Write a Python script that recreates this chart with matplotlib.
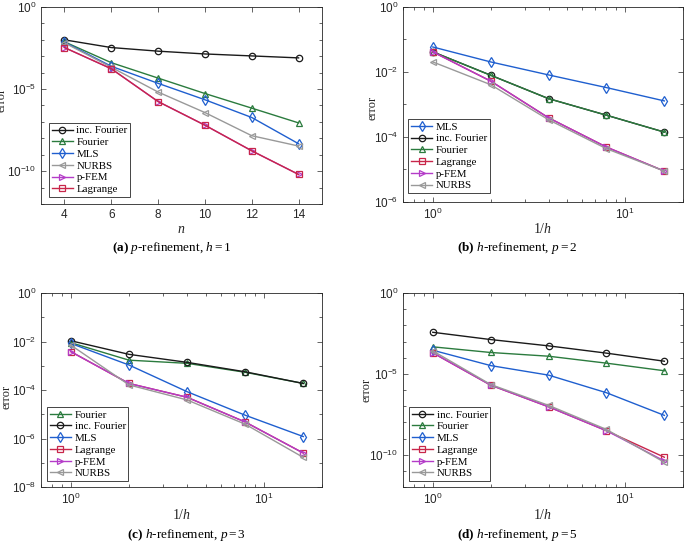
import matplotlib
matplotlib.use("Agg")
import matplotlib.pyplot as plt
import numpy as np
from matplotlib.ticker import LogLocator, NullFormatter, FixedLocator

plt.rcParams['font.family'] = 'Liberation Sans'
plt.rcParams['mathtext.fontset'] = 'custom'
plt.rcParams['mathtext.rm'] = 'Liberation Serif'
plt.rcParams['mathtext.it'] = 'Liberation Serif:italic'
plt.rcParams['mathtext.bf'] = 'Liberation Serif:bold'

# colours / markers per method
styles = {
    "inc. Fourier": ("#1a1a1a", "o"),
    "Fourier": ("#2b7b3e", "^"),
    "MLS": ("#1f5fcf", "d"),
    "NURBS": ("#999999", "<"),
    "p-FEM": ("#b43cc8", ">"),
    "Lagrange": ("#c8264a", "s"),
}

# (a) p-refinement, h = 1  (log10 of error)
n_a = [4, 6, 8, 10, 12, 14]
a_incfourier = [-2.00, -2.47, -2.69, -2.86, -2.98, -3.10]
a_fourier = [-2.12, -3.39, -4.33, -5.27, -6.16, -7.06]
a_mls = [-2.14, -3.61, -4.65, -5.65, -6.73, -8.33]
a_nurbs = [-2.18, -3.67, -5.18, -6.43, -7.84, -8.47]
a_pfem = [-2.47, -3.76, -5.76, -7.20, -8.76, -10.20]
a_lagrange = [-2.47, -3.76, -5.76, -7.20, -8.76, -10.20]

# (b) h-refinement, p = 2
inv_h = [1, 2, 4, 8, 16]
b_mls = [-1.23, -1.69, -2.09, -2.48, -2.89]
b_incfourier = [-1.38, -2.10, -2.82, -3.33, -3.85]
b_fourier = [-1.38, -2.10, -2.82, -3.33, -3.85]
b_lagrange = [-1.38, -2.28, -3.41, -4.31, -5.05]
b_pfem = [-1.38, -2.28, -3.41, -4.31, -5.05]
b_nurbs = [-1.69, -2.39, -3.47, -4.36, -5.05]

# (c) h-refinement, p = 3
c_fourier = [-2.05, -2.77, -2.90, -3.27, -3.73]
c_incfourier = [-1.97, -2.53, -2.86, -3.25, -3.73]
c_mls = [-2.08, -2.97, -4.07, -5.04, -5.92]
c_lagrange = [-2.42, -3.73, -4.30, -5.32, -6.60]
c_pfem = [-2.42, -3.73, -4.30, -5.32, -6.60]
c_nurbs = [-2.15, -3.79, -4.41, -5.41, -6.78]

# (d) h-refinement, p = 5
d_incfourier = [-2.43, -2.88, -3.27, -3.72, -4.22]
d_fourier = [-3.33, -3.68, -3.91, -4.34, -4.81]
d_mls = [-3.54, -4.49, -5.08, -6.17, -7.57]
d_lagrange = [-3.70, -5.70, -7.04, -8.52, -10.16]
d_pfem = [-3.70, -5.70, -7.04, -8.52, -10.39]
d_nurbs = [-3.58, -5.66, -6.95, -8.44, -10.47]

panels = [
    dict(x=n_a, series=[("inc. Fourier", a_incfourier), ("Fourier", a_fourier), ("MLS", a_mls),
                        ("NURBS", a_nurbs), ("p-FEM", a_pfem), ("Lagrange", a_lagrange)],
         rect=(41, 7, 322, 204), ylim=(-12, 0), ymajor=[0, -5, -10], logx=False,
         xlabel=r"$n$", cap=r"$\mathbf{(a)}$ $p$-refinement, $h = 1$", capxy=(172, 248),
         leg=(0.028, 0.036), ylab=(2, 100), xlab=229),
    dict(x=inv_h, series=[("MLS", b_mls), ("inc. Fourier", b_incfourier), ("Fourier", b_fourier),
                          ("Lagrange", b_lagrange), ("p-FEM", b_pfem), ("NURBS", b_nurbs)],
         rect=(403, 7, 683, 202), ylim=(-6, 0), ymajor=[0, -2, -4, -6], logx=True,
         xlabel=r"$1/h$", cap=r"$\mathbf{(b)}$ $h$-refinement, $p = 2$", capxy=(517, 248),
         leg=(0.018, 0.046), ylab=(373, 108), xlab=229),
    dict(x=inv_h, series=[("Fourier", c_fourier), ("inc. Fourier", c_incfourier), ("MLS", c_mls),
                          ("Lagrange", c_lagrange), ("p-FEM", c_pfem), ("NURBS", c_nurbs)],
         rect=(41, 293, 322, 487), ylim=(-8, 0), ymajor=[0, -2, -4, -6, -8], logx=True,
         xlabel=r"$1/h$", cap=r"$\mathbf{(c)}$ $h$-refinement, $p = 3$", capxy=(187, 535),
         leg=(0.021, 0.031), ylab=(6.5, 397), xlab=515),
    dict(x=inv_h, series=[("inc. Fourier", d_incfourier), ("Fourier", d_fourier), ("MLS", d_mls),
                          ("Lagrange", d_lagrange), ("p-FEM", d_pfem), ("NURBS", d_nurbs)],
         rect=(403, 293, 683, 487), ylim=(-12, 0), ymajor=[0, -5, -10], logx=True,
         xlabel=r"$1/h$", cap=r"$\mathbf{(d)}$ $h$-refinement, $p = 5$", capxy=(517, 535),
         leg=(0.021, 0.031), ylab=(367, 390), xlab=515),
]

W, H = 685, 543
fig = plt.figure(figsize=(W / 100, H / 100), dpi=100)

for p in panels:
    x0, y0, x1, y1 = p["rect"]
    ax = fig.add_axes([x0 / W, 1 - y1 / H, (x1 - x0) / W, (y1 - y0) / H])
    for name, vals in p["series"]:
        col, mk = styles[name]
        ax.plot(p["x"], 10.0 ** np.array(vals), color=col, marker=mk, lw=1.0, ms=4.6,
                mfc="none", mew=0.9, label=name)
    ax.set_yscale("log")
    ax.set_ylim(10.0 ** p["ylim"][0], 10.0 ** p["ylim"][1])
    ax.yaxis.set_major_locator(FixedLocator([10.0 ** e for e in p["ymajor"]]))
    ax.yaxis.set_minor_locator(FixedLocator([10.0 ** e for e in range(p["ylim"][0], p["ylim"][1] + 1)]))
    ax.yaxis.set_minor_formatter(NullFormatter())
    if p["logx"]:
        ax.set_xscale("log")
        ax.set_xlim(0.7, 20)
        ax.xaxis.set_major_locator(FixedLocator([1, 10]))
        ax.xaxis.set_minor_locator(LogLocator(base=10, subs=np.arange(2, 10)))
        ax.xaxis.set_minor_formatter(NullFormatter())
    else:
        ax.set_xlim(3, 15)
        ax.set_xticks(n_a)
    ax.tick_params(which="both", direction="in", top=True, right=True, labelsize=8.5,
                   width=0.5, color="#262626", labelcolor="#262626")
    ax.tick_params(which="major", length=3.5)
    ax.tick_params(which="minor", length=2)
    for s in ax.spines.values():
        s.set_linewidth(0.6)
        s.set_color("#262626")
    # axis labels placed by pixel centre, like the reference
    fig.text(p["ylab"][0] / W, 1 - p["ylab"][1] / H, "error", rotation=90, ha="center", va="center",
             family="Liberation Serif", fontsize=9, color="#262626")
    fig.text((x0 + x1) / 2 / W, 1 - p["xlab"] / H, p["xlabel"], ha="center", va="center",
             fontsize=10, color="#262626")
    leg = ax.legend(loc="lower left", bbox_to_anchor=p["leg"], prop={"family": "Liberation Serif", "size": 7.8},
                    handlelength=2.0, handletextpad=0.3, labelspacing=0.2, borderpad=0.25,
                    borderaxespad=0, fancybox=False, framealpha=1)
    leg.get_frame().set_edgecolor("#262626")
    leg.get_frame().set_linewidth(0.6)
    fig.text(p["capxy"][0] / W, 1 - p["capxy"][1] / H, p["cap"], ha="center", va="center",
             family="Liberation Serif", fontsize=9.5)

fig.savefig("out.png", dpi=100)
